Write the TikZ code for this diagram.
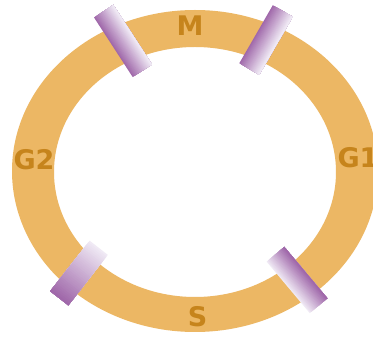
\documentclass[tikz,border=0pt]{standalone}
\usepackage{fontspec}
\setmainfont{DejaVu Sans}
\newcommand\clampcross[7]{% cx, cy, angle, length, name, colour at -x, colour at +x
  \begin{scope}[shift={(#1,#2)}, rotate=#3]
    \foreach \i in {0,...,22} {
      \pgfmathtruncatemacro\p{100-\i*100/22}
      \fill[#6!\p!#7] ({-11.5+\i},{-#4/2}) rectangle (11.5,{#4/2});
    }
    \node[transform shape, minimum width=23pt, minimum height=#4pt, inner sep=0pt] (#5) at (0,0) {};
  \end{scope}}
\newcommand\clamplong[7]{% cx, cy, angle, length, name, colour at upper end, colour at lower end
  \begin{scope}[shift={(#1,#2)}, rotate=#3]
    \foreach \i in {0,...,31} {
      \pgfmathtruncatemacro\p{100-\i*100/31}
      \fill[#6!\p!#7] (-11.5,{-#4/2+\i*#4/32}) rectangle (11.5,{#4/2});
    }
    \node[transform shape, minimum width=23pt, minimum height=#4pt, inner sep=0pt] (#5) at (0,0) {};
  \end{scope}}
\begin{document}
\begin{tikzpicture}[x=1pt,y=-1pt]
\definecolor{ringc}{RGB}{236,183,100}
\definecolor{labc}{RGB}{198,132,28}
\definecolor{pdark}{RGB}{160,104,170}
\definecolor{plight}{RGB}{240,234,245}
\tikzset{
  lab/.style={font=\bfseries\fontsize{27}{27}\selectfont, text=labc, inner sep=0pt, anchor=base}
}
\useasboundingbox (0,0) rectangle (373,339);
\clip (0,0) rectangle (373,339);
\fill[white] (0,0) rectangle (373,339);
% ring
\fill[ringc, even odd rule] (195,171) ellipse [x radius=183, y radius=161]
                            (195,172) ellipse [x radius=141, y radius=125];
% clamps
\clampcross{123}{41}{33}{71}{tl}{pdark}{plight}
\clampcross{266}{40}{-30}{67}{tr}{pdark}{plight}
\clamplong{79}{273}{-38}{64}{bl}{plight}{pdark}
\clampcross{297}{280}{40}{67}{br}{plight}{pdark}
% labels
\node[lab] (m) at (190,36) {M};
\node[lab] (g2) at (34,170) {G2};
\node[lab] (g1) at (358,168) {G1};
\node[lab] (s) at (197.5,327) {S};
\end{tikzpicture}
\end{document}
